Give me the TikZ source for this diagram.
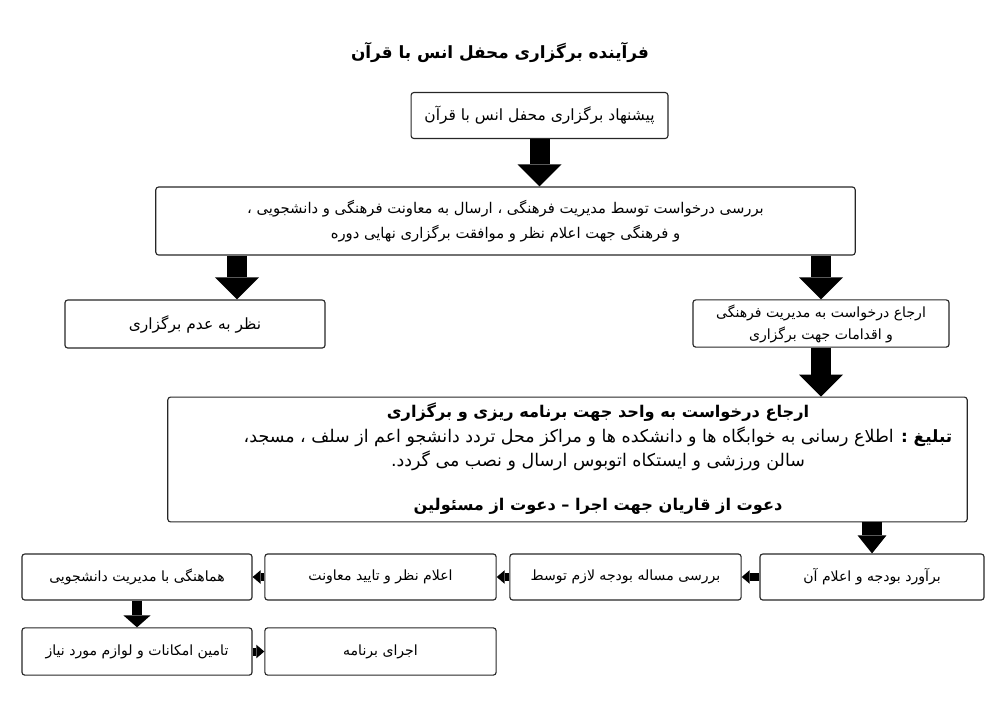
\documentclass[tikz,border=0pt]{standalone}
\usepackage{fontspec}
\usetikzlibrary{arrows.meta,calc}
\TeXXeTstate=1
\newfontfamily\farsifont[Script=Arabic]{DejaVu Sans}
\newcommand{\fa}[1]{\beginR #1\endR}

\tikzset{
    stepbox/.style={draw=black!85, line width=0.8pt, rounded corners=2pt, inner sep=0pt,
        align=center, font=\farsifont\fontsize{10}{17.5}\selectfont},
    bigarrow/.style={line width=0.5cm, -{Triangle[width=1.1cm,length=0.55cm,line width=0pt]}},
    midarrow/.style={line width=0.5cm, -{Triangle[width=0.72cm,length=0.45cm,line width=0pt]}},
    smallarrow/.style={line width=0.25cm, -{Triangle[width=0.68cm,length=0.3cm,line width=0pt]}},
    tinyarrow/.style={line width=0.2cm, -{Triangle[width=0.34cm,length=0.2cm,line width=0pt]}}
}

\begin{document}
\begin{tikzpicture}[x=0.025cm, y=-0.025cm]
    \useasboundingbox (0,0) rectangle (1000,706);

    % title
    \node[font=\farsifont\bfseries\fontsize{12}{14}\selectfont] (title) at (500,52)
        {\fa{فرآینده برگزاری محفل انس با قرآن}};

    % top of the chart
    \node[stepbox, minimum width=6.42cm, minimum height=1.15cm, font=\farsifont\fontsize{11}{14}\selectfont] (propose) at (539.5,115.5)
        {\fa{پیشنهاد برگزاری محفل انس با قرآن}};
    \node[stepbox, minimum width=17.48cm, minimum height=1.7cm, font=\farsifont\fontsize{10.5}{17.7}\selectfont] (review) at (505.5,221)
        {\fa{بررسی درخواست توسط مدیریت فرهنگی ، ارسال به معاونت فرهنگی و دانشجویی ،}\\
         \fa{و فرهنگی جهت اعلام نظر و موافقت برگزاری نهایی دوره}};

    % the two answers
    \node[stepbox, minimum width=6.5cm, minimum height=1.2cm, font=\farsifont\fontsize{11}{14}\selectfont] (reject) at (195,324)
        {\fa{نظر به عدم برگزاری}};
    \node[stepbox, minimum width=6.4cm, minimum height=1.18cm, font=\farsifont\fontsize{10}{15.6}\selectfont] (accept) at (821,323.5)
        {\fa{ارجاع درخواست به مدیریت فرهنگی}\\ \fa{و اقدامات جهت برگزاری}};
    \coordinate (rejecttop) at ($(reject.north)+(42,0)$);

    % planning box
    \node[stepbox, minimum width=19.98cm, minimum height=3.12cm] (plan) at (567.5,459.5) {};
    \node[align=center, inner sep=0pt, font=\farsifont\fontsize{12.4}{17.4}\selectfont] (plantext) at (598,437)
        {\fa{\bfseries\fontsize{11.5}{17.4}\selectfont ارجاع درخواست به واحد جهت برنامه ریزی و برگزاری}\\
         \fa{{\bfseries\fontsize{12}{17.4}\selectfont تبلیغ :} اطلاع رسانی به خوابگاه ها و دانشکده ها و مراکز محل تردد دانشجو اعم از سلف ، مسجد،}\\
         \fa{سالن ورزشی و ایستکاه اتوبوس ارسال و نصب می گردد.}};
    \node[inner sep=0pt, font=\farsifont\bfseries\fontsize{11.5}{14}\selectfont] (invite) at (598,506)
        {\fa{دعوت از قاریان جهت اجرا – دعوت از مسئولین}};

    % bottom rows
    \node[stepbox, minimum width=5.6cm, minimum height=1.15cm] (budget) at (872,577)
        {\fa{برآورد بودجه و اعلام آن}};
    \node[stepbox, minimum width=5.78cm, minimum height=1.15cm] (study) at (625.5,577)
        {\fa{بررسی مساله بودجه لازم توسط}};
    \node[stepbox, minimum width=5.78cm, minimum height=1.15cm] (opinion) at (380.5,577)
        {\fa{اعلام نظر و تایید معاونت}};
    \node[stepbox, minimum width=5.75cm, minimum height=1.15cm] (coord) at (137,577)
        {\fa{هماهنگی با مدیریت دانشجویی}};
    \node[stepbox, minimum width=5.75cm, minimum height=1.18cm] (supply) at (137,651.5)
        {\fa{تامین امکانات و لوازم مورد نیاز}};
    \node[stepbox, minimum width=5.78cm, minimum height=1.18cm] (run) at (380.5,651.5)
        {\fa{اجرای برنامه}};

    % connectors
    \draw[bigarrow] (propose.south) -- (propose.south |- review.north);
    \draw[bigarrow] (rejecttop |- review.south) -- (rejecttop);
    \draw[bigarrow] (accept.north |- review.south) -- (accept.north);
    \draw[bigarrow] (accept.south) -- (accept.south |- plan.north);
    \draw[midarrow] (budget.north |- plan.south) -- (budget.north);
    \draw[tinyarrow] (budget.west) -- (study.east);
    \draw[tinyarrow] (study.west) -- (opinion.east);
    \draw[tinyarrow] (opinion.west) -- (coord.east);
    \draw[smallarrow] (coord.south) -- (supply.north);
    \draw[tinyarrow] (supply.east) -- (run.west);
\end{tikzpicture}
\end{document}
